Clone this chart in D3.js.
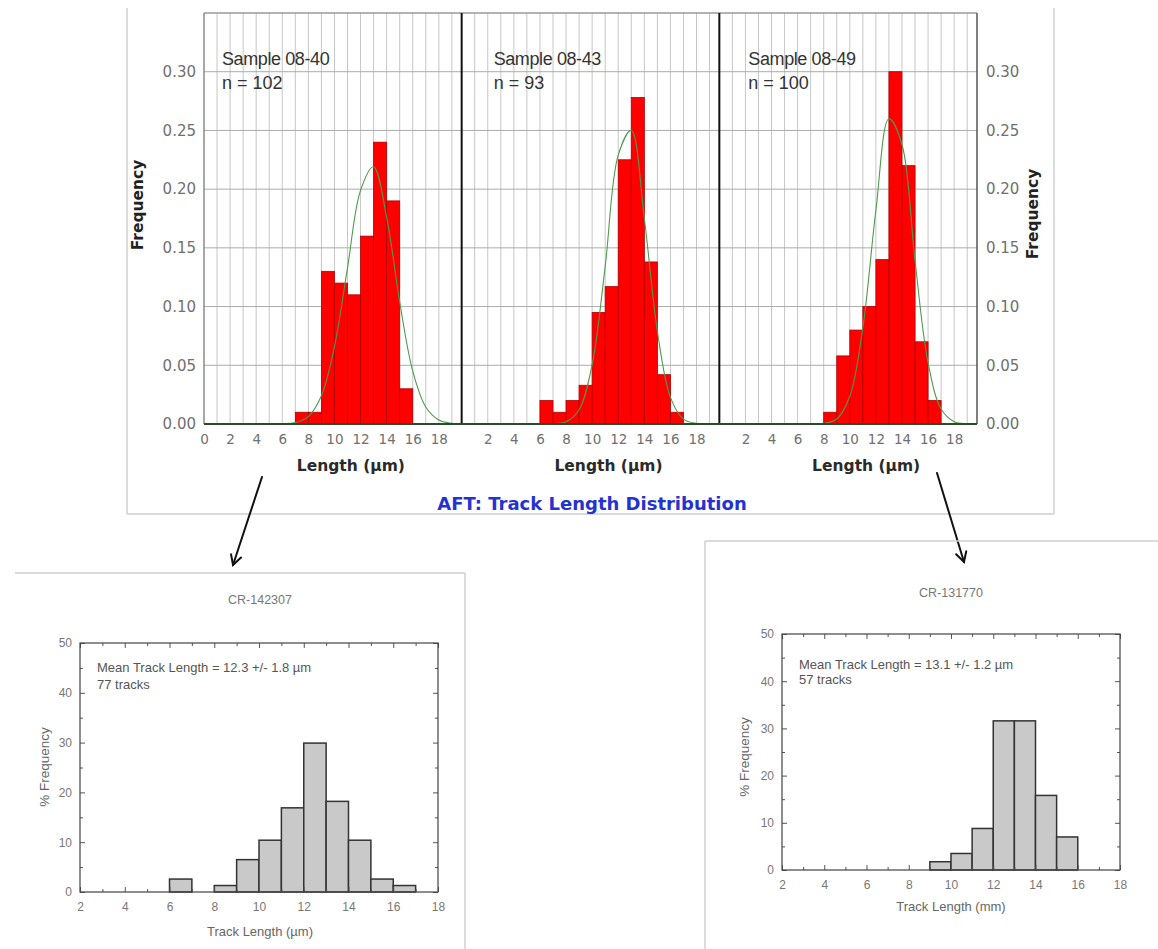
<!DOCTYPE html>
<html><head><meta charset="utf-8">
<script src="https://cdn.jsdelivr.net/npm/d3@7"></script>
<style>body{margin:0;background:#fff}svg{display:block}</style>
</head><body>
<svg id="c" width="1158" height="949"></svg>
<script>
// ---------- DATA ----------
const sampleNames  = ["Sample 08-40", "Sample 08-43", "Sample 08-49"];
const sampleCounts = ["n = 102", "n = 93", "n = 100"];
const bins0840 = [7, 8, 9, 10, 11, 12, 13, 14, 15];
const freq0840 = [0.01, 0.01, 0.13, 0.12, 0.11, 0.16, 0.24, 0.19, 0.03];
const bins0843 = [6, 7, 8, 9, 10, 11, 12, 13, 14, 15, 16];
const freq0843 = [0.02, 0.01, 0.02, 0.033, 0.095, 0.117, 0.225, 0.278, 0.138, 0.042, 0.01];
const bins0849 = [8, 9, 10, 11, 12, 13, 14, 15, 16];
const freq0849 = [0.01, 0.058, 0.08, 0.10, 0.14, 0.30, 0.22, 0.07, 0.02];
const fitX    = [0, 4, 5, 6, 7, 8, 9, 10, 11, 12, 13, 14, 15, 16, 17, 18, 19, 19.7];
const fit0840 = [0, 0, 0, 0.0002, 0.0012, 0.0063, 0.024, 0.066, 0.133, 0.199, 0.219, 0.176, 0.104, 0.045, 0.0145, 0.0034, 0.0006, 0];
const fit0843 = [0, 0, 0, 0, 0.0002, 0.0019, 0.0122, 0.0505, 0.134, 0.229, 0.250, 0.175, 0.079, 0.0227, 0.0042, 0.0005, 0, 0];
const fit0849 = [0, 0, 0, 0, 0, 0.0005, 0.0043, 0.0236, 0.082, 0.182, 0.260, 0.238, 0.139, 0.052, 0.0127, 0.002, 0.0002, 0];
const topYTicks = [0, 0.05, 0.10, 0.15, 0.20, 0.25, 0.30];
const topXTicksFirst = [0, 2, 4, 6, 8, 10, 12, 14, 16, 18];
const topXTicksOther = [2, 4, 6, 8, 10, 12, 14, 16, 18];
const topXLabel = "Length (µm)";
const topYLabel = "Frequency";
const topTitle = "AFT: Track Length Distribution";

const crLeftName = "CR-142307";
const crLeftBins = [6, 8, 9, 10, 11, 12, 13, 14, 15, 16];
const crLeftPct  = [2.6, 1.3, 6.5, 10.4, 16.9, 29.9, 18.2, 10.4, 2.6, 1.3];
const crLeftNote = ["Mean Track Length = 12.3 +/- 1.8 µm", "77 tracks"];
const crLeftXLabel = "Track Length (µm)";

const crRightName = "CR-131770";
const crRightBins = [9, 10, 11, 12, 13, 14, 15];
const crRightPct  = [1.75, 3.5, 8.8, 31.6, 31.6, 15.8, 7.0];
const crRightNote = ["Mean Track Length = 13.1 +/- 1.2 µm", "57 tracks"];
const crRightXLabel = "Track Length (mm)";

const crYLabel = "% Frequency";
const crXTicks = [2, 4, 6, 8, 10, 12, 14, 16, 18];
const crYTicks = [0, 10, 20, 30, 40, 50];

// ---------- DRAW ----------
const svg = d3.select("#c");

const frame = svg.append("g").attr("fill", "none").attr("stroke", "#cfcfcf").attr("stroke-width", 1.5);
frame.append("line").attr("x1", 127).attr("y1", 8).attr("x2", 127).attr("y2", 514);
frame.append("line").attr("x1", 1054).attr("y1", 8).attr("x2", 1054).attr("y2", 514);
frame.append("line").attr("x1", 127).attr("y1", 514).attr("x2", 1054).attr("y2", 514);

const L = 204, R = 977, T = 13, B = 424;
const pw = (R - L) / 3;
const y = d3.scaleLinear().domain([0, 0.35]).range([B, T]);
const panels = [
  {bins: bins0840, freq: freq0840, fit: fit0840, ticks: topXTicksFirst, labelDx: 18},
  {bins: bins0843, freq: freq0843, fit: fit0843, ticks: topXTicksOther, labelDx: 32},
  {bins: bins0849, freq: freq0849, fit: fit0849, ticks: topXTicksOther, labelDx: 29}
];

panels.forEach((p, i) => {
  const x0 = L + i * pw;
  const x = d3.scaleLinear().domain([0, 19.75]).range([x0, x0 + pw]);
  const g = svg.append("g");
  g.selectAll(".vg").data(d3.range(1, 20)).join("line")
    .attr("x1", d => x(d)).attr("x2", d => x(d)).attr("y1", T).attr("y2", B)
    .attr("stroke", "#c6c6c6").attr("stroke-width", 1);
  g.selectAll(".hg").data(topYTicks.slice(1)).join("line")
    .attr("x1", x0).attr("x2", x0 + pw).attr("y1", d => y(d)).attr("y2", d => y(d))
    .attr("stroke", "#ababab").attr("stroke-width", 1);
  g.selectAll(".bar").data(p.bins.map((b, k) => ({b, v: p.freq[k]}))).join("rect")
    .attr("x", d => x(d.b)).attr("width", d => x(d.b + 1) - x(d.b))
    .attr("y", d => y(d.v)).attr("height", d => y(0) - y(d.v))
    .attr("fill", "#ff0000").attr("stroke", "#b00000").attr("stroke-width", 0.8);
  const line = d3.line().x(d => x(d[0])).y(d => Math.min(y(d[1]), B)).curve(d3.curveCatmullRom.alpha(0.5));
  g.append("path").datum(fitX.map((fx, k) => [fx, p.fit[k]]))
    .attr("d", line).attr("fill", "none").attr("stroke", "#4f9a4f").attr("stroke-width", 1.1);
  const ax = g.append("g").attr("transform", `translate(0,${B})`)
    .call(d3.axisBottom(x).tickValues(p.ticks).tickSize(0).tickPadding(10).tickFormat(d3.format("d")));
  ax.select(".domain").remove();
  ax.selectAll("text").attr("font-family", "DejaVu Sans").attr("font-size", 13.5).attr("fill", "#707070");
  g.append("text").attr("x", x0 + pw / 2 + 18).attr("y", 471).attr("text-anchor", "middle")
    .attr("font-family", "DejaVu Sans").attr("font-weight", "bold").attr("font-size", 15.5)
    .attr("fill", "#2a2a2a").text(topXLabel);
  g.append("text").attr("x", x0 + p.labelDx).attr("y", 65)
    .attr("font-family", "Liberation Sans").attr("font-size", 18).attr("fill", "#333")
    .attr("letter-spacing", -0.4).text(sampleNames[i]);
  g.append("text").attr("x", x0 + p.labelDx).attr("y", 89)
    .attr("font-family", "Liberation Sans").attr("font-size", 18).attr("fill", "#333")
    .text(sampleCounts[i]);
});

const pb = svg.append("g").attr("fill", "none");
pb.append("line").attr("x1", L).attr("x2", R).attr("y1", T).attr("y2", T).attr("stroke", "#9a9a9a").attr("stroke-width", 1.5);
pb.append("line").attr("x1", L).attr("x2", L).attr("y1", T).attr("y2", B).attr("stroke", "#8a8a8a").attr("stroke-width", 1.5);
pb.append("line").attr("x1", R).attr("x2", R).attr("y1", T).attr("y2", B).attr("stroke", "#555").attr("stroke-width", 1.5);
[1, 2].forEach(k => pb.append("line").attr("x1", L + k * pw).attr("x2", L + k * pw)
  .attr("y1", T).attr("y2", B).attr("stroke", "#111").attr("stroke-width", 2));
pb.append("line").attr("x1", L).attr("x2", R).attr("y1", B).attr("y2", B).attr("stroke", "#2c4a2c").attr("stroke-width", 2);

const yl = svg.append("g").attr("transform", `translate(${L},0)`)
  .call(d3.axisLeft(y).tickValues(topYTicks).tickFormat(d3.format(".2f")).tickSize(0).tickPadding(8));
yl.select(".domain").remove();
yl.selectAll("text").attr("font-family", "DejaVu Sans").attr("font-size", 15).attr("fill", "#707070");
const yr = svg.append("g").attr("transform", `translate(${R},0)`)
  .call(d3.axisRight(y).tickValues(topYTicks).tickFormat(d3.format(".2f")).tickSize(0).tickPadding(9));
yr.select(".domain").remove();
yr.selectAll("text").attr("font-family", "DejaVu Sans").attr("font-size", 15).attr("fill", "#707070");

svg.append("text").attr("transform", `translate(143,205) rotate(-90)`).attr("text-anchor", "middle")
  .attr("font-family", "DejaVu Sans").attr("font-weight", "bold").attr("font-size", 15.5).attr("fill", "#222").text(topYLabel);
svg.append("text").attr("transform", `translate(1038,214) rotate(-90)`).attr("text-anchor", "middle")
  .attr("font-family", "DejaVu Sans").attr("font-weight", "bold").attr("font-size", 15.5).attr("fill", "#222").text(topYLabel);
svg.append("text").attr("x", 592).attr("y", 510).attr("text-anchor", "middle")
  .attr("font-family", "DejaVu Sans").attr("font-weight", "bold").attr("font-size", 18).attr("fill", "#2433d0").text(topTitle);

function arrow(x1, y1, x2, y2) {
  const g = svg.append("g").attr("stroke", "#111").attr("stroke-width", 2).attr("fill", "none").attr("stroke-linecap", "round");
  g.append("line").attr("x1", x1).attr("y1", y1).attr("x2", x2).attr("y2", y2);
  const a = Math.atan2(y2 - y1, x2 - x1), len = 11, sp = 0.5;
  g.append("path").attr("d", `M${x2 - len * Math.cos(a - sp)},${y2 - len * Math.sin(a - sp)}L${x2},${y2}L${x2 - len * Math.cos(a + sp)},${y2 - len * Math.sin(a + sp)}`);
}
arrow(262, 477, 233, 565);
arrow(937, 473, 964, 562);

const bb = svg.append("g").attr("stroke", "#cfcfcf").attr("stroke-width", 1.5);
bb.append("line").attr("x1", 15).attr("y1", 573).attr("x2", 465).attr("y2", 573);
bb.append("line").attr("x1", 465).attr("y1", 573).attr("x2", 465).attr("y2", 949);
bb.append("line").attr("x1", 705).attr("y1", 541).attr("x2", 1158).attr("y2", 541);
bb.append("line").attr("x1", 705).attr("y1", 541).attr("x2", 705).attr("y2", 949);

function crChart(o) {
  const x = d3.scaleLinear().domain([2, 18]).range([o.l, o.r]);
  const yy = d3.scaleLinear().domain([0, 50]).range([o.b, o.t]);
  const g = svg.append("g");
  g.append("text").attr("x", o.cx).attr("y", o.titleY).attr("text-anchor", "middle")
    .attr("font-family", "Liberation Sans").attr("font-size", 12.5).attr("fill", "#777").text(o.name);
  g.selectAll(".bar").data(o.bins.map((b, k) => ({b, v: o.pct[k]}))).join("rect")
    .attr("x", d => x(d.b)).attr("width", d => x(d.b + 1) - x(d.b))
    .attr("y", d => yy(d.v)).attr("height", d => yy(0) - yy(d.v))
    .attr("fill", "#c9c9c9").attr("stroke", "#333").attr("stroke-width", 1.5);
  const st = sel => { sel.select(".domain").remove(); sel.selectAll("line").attr("stroke", "#555"); };
  const minorX = d3.range(3, 18, 2), minorY = d3.range(5, 50, 10);
  const bx = g.append("g").attr("transform", `translate(0,${o.b})`)
    .call(d3.axisBottom(x).tickValues(crXTicks).tickSize(-5).tickPadding(10).tickFormat(d3.format("d")));
  st(bx);
  bx.selectAll("text").attr("font-family", "Liberation Sans").attr("font-size", 12).attr("fill", "#777");
  st(g.append("g").attr("transform", `translate(0,${o.b})`).call(d3.axisBottom(x).tickValues(minorX).tickSize(-3).tickFormat("")));
  st(g.append("g").attr("transform", `translate(0,${o.t})`).call(d3.axisTop(x).tickValues(crXTicks).tickSize(-5).tickFormat("")));
  st(g.append("g").attr("transform", `translate(0,${o.t})`).call(d3.axisTop(x).tickValues(minorX).tickSize(-3).tickFormat("")));
  const ly = g.append("g").attr("transform", `translate(${o.l},0)`)
    .call(d3.axisLeft(yy).tickValues(crYTicks).tickSize(-5).tickPadding(8).tickFormat(d3.format("d")));
  st(ly);
  ly.selectAll("text").attr("font-family", "Liberation Sans").attr("font-size", 12).attr("fill", "#777");
  st(g.append("g").attr("transform", `translate(${o.l},0)`).call(d3.axisLeft(yy).tickValues(minorY).tickSize(-3).tickFormat("")));
  st(g.append("g").attr("transform", `translate(${o.r},0)`).call(d3.axisRight(yy).tickValues(crYTicks).tickSize(-5).tickFormat("")));
  st(g.append("g").attr("transform", `translate(${o.r},0)`).call(d3.axisRight(yy).tickValues(minorY).tickSize(-3).tickFormat("")));
  g.append("rect").attr("x", o.l).attr("y", o.t).attr("width", o.r - o.l).attr("height", o.b - o.t)
    .attr("fill", "none").attr("stroke", "#444").attr("stroke-width", 1.2);
  o.note.forEach((t, k) => g.append("text").attr("x", o.l + 17).attr("y", o.noteY + k * o.noteGap)
    .attr("font-family", "Liberation Sans").attr("font-size", 13).attr("fill", "#555").text(t));
  g.append("text").attr("x", o.cx).attr("y", o.xlY).attr("text-anchor", "middle")
    .attr("font-family", "Liberation Sans").attr("font-size", 13).attr("fill", "#666").text(o.xl);
  g.append("text").attr("transform", `translate(${o.ylX},${o.ylY}) rotate(-90)`).attr("text-anchor", "middle")
    .attr("font-family", "Liberation Sans").attr("font-size", 13.5).attr("fill", "#666").text(crYLabel);
}

crChart({name: crLeftName, bins: crLeftBins, pct: crLeftPct, note: crLeftNote, xl: crLeftXLabel,
  l: 80, r: 438, t: 643, b: 892, cx: 260, titleY: 604, noteY: 672, noteGap: 17, xlY: 936, ylX: 49, ylY: 767});
crChart({name: crRightName, bins: crRightBins, pct: crRightPct, note: crRightNote, xl: crRightXLabel,
  l: 782, r: 1120, t: 634, b: 870, cx: 951, titleY: 597, noteY: 669, noteGap: 15, xlY: 911, ylX: 749, ylY: 757});
</script>
</body></html>
